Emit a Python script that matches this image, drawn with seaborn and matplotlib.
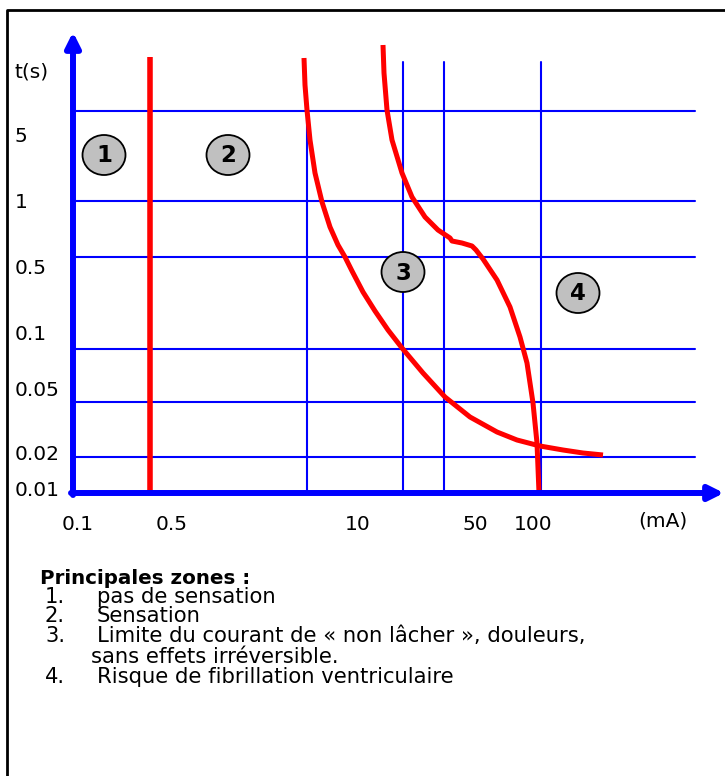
import matplotlib
matplotlib.use('Agg')
import matplotlib.pyplot as plt
import numpy as np
import pandas as pd
import seaborn as sns
from matplotlib.patches import Ellipse

# %% schematic data (drawing units, y grows downward)
y_tick_labels = ['5', '1', '0.5', '0.1', '0.05', '0.02', '0.01']
y_tick_pos = [136, 202, 268, 335, 390, 454, 491]
x_tick_labels = ['0.1', '0.5', '10', '50', '100']
x_tick_pos = [78, 172, 358, 475, 533]

h_grid = [111, 201, 257, 349, 402, 457]
v_grid = [307, 403, 444, 541]
v_grid_top = [111, 62, 62, 62]

# zone 1 / zone 2 limit
limit_12_x = [150, 150]
limit_12_y = [57, 493]

# zone 2 / zone 3 limit
curve_a_x = [304, 305, 307, 310, 315, 322, 330, 338, 345, 352, 363, 375, 388,
             402, 423, 445, 470, 497, 517, 540, 563, 583, 603]
curve_a_y = [58, 85, 110, 140, 173, 202, 227, 245, 257, 271, 292, 311, 330,
             348, 373, 397, 417, 432, 440, 446, 450, 453, 455]

# zone 3 / zone 4 limit
curve_b_x = [383, 384, 387, 392, 402, 412, 425, 438, 450, 452, 462, 472, 476,
             483, 497, 510, 520, 527, 533, 537, 539]
curve_b_y = [45, 73, 110, 140, 173, 197, 217, 230, 238, 241, 243, 246, 250,
             259, 280, 307, 337, 363, 403, 443, 493]

zone_labels = ['1', '2', '3', '4']
zone_x = [104, 228, 403, 578]
zone_y = [155, 155, 272, 293]

legend_title = 'Principales zones :'
legend_items = ['pas de sensation', 'Sensation',
                'Limite du courant de « non lâcher », douleurs,',
                'Risque de fibrillation ventriculaire']
legend_extra = 'sans effets irréversible.'

# %%
sns.set_style('white')
plt.rcParams['font.family'] = ['DejaVu Sans']
plt.rcParams['text.color'] = 'black'

fig = plt.figure(figsize=(7.25, 7.76), dpi=100)
ax = fig.add_axes([0, 0, 1, 1])

# border (only top and left are visible)
ax.plot([7, 7, 725], [776, 10, 10], color='black', lw=2, solid_capstyle='butt')

# grid
for y in h_grid:
    ax.plot([73, 695], [y, y], color='blue', lw=1.5)
for x, top in zip(v_grid, v_grid_top):
    ax.plot([x, x], [top, 493], color='blue', lw=1.5)

# axes with arrows
ax.annotate('', xy=(73, 32), xytext=(73, 495),
            arrowprops=dict(arrowstyle='-|>', color='blue', lw=4.3,
                            mutation_scale=22, shrinkA=0, shrinkB=0))
ax.annotate('', xy=(724, 493), xytext=(71, 493),
            arrowprops=dict(arrowstyle='-|>', color='blue', lw=4.3,
                            mutation_scale=22, shrinkA=0, shrinkB=0))

# red limits
line_kw = dict(ax=ax, color='red', sort=False, estimator=None)
sns.lineplot(x=limit_12_x, y=limit_12_y, lw=4, solid_capstyle='butt', **line_kw)
sns.lineplot(x=curve_a_x, y=curve_a_y, lw=3.6, solid_capstyle='butt',
             solid_joinstyle='round', **line_kw)
sns.lineplot(x=curve_b_x, y=curve_b_y, lw=3.6, solid_capstyle='butt',
             solid_joinstyle='round', **line_kw)

ax.set_xlim(0, 725)
ax.set_ylim(776, 0)
ax.axis('off')

# zone markers
for lab, x, y in zip(zone_labels, zone_x, zone_y):
    ax.add_patch(Ellipse((x, y), 43, 40, facecolor='#c0c0c0', edgecolor='black',
                         lw=1.3, zorder=5))
    ax.text(x, y + 1, lab, ha='center', va='center', fontsize=16.5,
            fontweight='bold', zorder=6)

# tick labels
ax.text(15, 72, 't(s)', ha='left', va='center', fontsize=14.5)
for lab, y in zip(y_tick_labels, y_tick_pos):
    ax.text(15, y, lab, ha='left', va='center', fontsize=14.5)
for lab, x in zip(x_tick_labels, x_tick_pos):
    ax.text(x, 524, lab, ha='center', va='center', fontsize=14.5)
ax.text(663, 521, '(mA)', ha='center', va='center', fontsize=14.5)

# zone list
ax.text(40, 578, legend_title, ha='left', va='center', fontsize=14.3,
        fontweight='bold')
list_y = [597, 616, 636, 677]
for i, (item, y) in enumerate(zip(legend_items, list_y)):
    ax.text(45, y, f'{i + 1}.', ha='left', va='center', fontsize=15.2)
    ax.text(97, y, item, ha='left', va='center', fontsize=15.2)
ax.text(91, 657, legend_extra, ha='left', va='center', fontsize=15.2)

plt.savefig('out.png', dpi=100)
